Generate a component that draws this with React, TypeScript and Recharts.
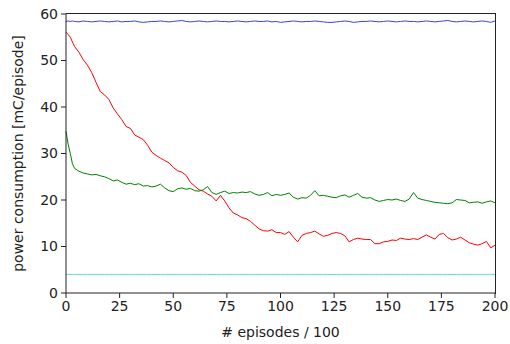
import React from 'react';
import { LineChart, Line, XAxis, YAxis } from 'recharts';

const episodes: number[] = [0, 1, 2, 3, 4, 6, 8, 10, 12, 14, 16, 18, 20, 22, 24, 26, 28, 30, 32, 34, 36, 38, 40, 42, 44, 46, 48, 50, 52, 54, 56, 58, 60, 62, 64, 66, 68, 70, 72, 74, 76, 78, 80, 82, 84, 86, 88, 90, 92, 94, 96, 98, 100, 102, 104, 106, 108, 110, 112, 114, 116, 118, 120, 122, 124, 126, 128, 130, 132, 134, 136, 138, 140, 142, 144, 146, 148, 150, 152, 154, 156, 158, 160, 162, 164, 166, 168, 170, 172, 174, 176, 178, 180, 182, 184, 186, 188, 190, 192, 194, 196, 198, 200];

const blueSeries: number[] = [58.4, 58.5, 58.4, 58.5, 58.4, 58.3, 58.5, 58.4, 58.3, 58.4, 58.5, 58.4, 58.3, 58.4, 58.5, 58.3, 58.4, 58.4, 58.5, 58.3, 58.2, 58.3, 58.4, 58.4, 58.5, 58.4, 58.3, 58.4, 58.5, 58.6, 58.4, 58.3, 58.4, 58.5, 58.4, 58.3, 58.4, 58.5, 58.4, 58.4, 58.3, 58.4, 58.5, 58.4, 58.3, 58.4, 58.5, 58.4, 58.4, 58.5, 58.3, 58.4, 58.2, 58.3, 58.4, 58.5, 58.4, 58.3, 58.4, 58.4, 58.5, 58.4, 58.3, 58.2, 58.2, 58.3, 58.4, 58.5, 58.4, 58.2, 58.3, 58.4, 58.4, 58.5, 58.4, 58.3, 58.4, 58.5, 58.4, 58.3, 58.4, 58.5, 58.4, 58.4, 58.3, 58.4, 58.5, 58.4, 58.3, 58.4, 58.5, 58.6, 58.4, 58.3, 58.4, 58.5, 58.4, 58.3, 58.4, 58.5, 58.4, 58.2, 58.5];

const redSeries: number[] = [56.1, 55.6, 55.0, 54.0, 53.0, 51.8, 50.2, 49.0, 47.4, 45.3, 43.3, 42.6, 41.6, 39.8, 38.5, 37.3, 35.8, 35.4, 34.0, 33.5, 33.0, 31.8, 30.3, 29.6, 29.0, 28.5, 28.0, 27.0, 26.3, 26.0, 25.3, 23.8, 23.0, 22.2, 21.9, 21.3, 20.8, 19.8, 21.0, 19.8, 18.3, 17.2, 16.8, 16.2, 16.0, 15.4, 14.6, 13.8, 13.4, 13.3, 13.6, 13.0, 13.0, 12.6, 13.2, 12.0, 11.0, 12.4, 12.8, 13.0, 13.3, 12.7, 12.2, 12.4, 12.8, 13.0, 12.8, 12.3, 11.0, 11.5, 11.8, 11.6, 11.5, 11.5, 10.6, 10.6, 11.0, 11.1, 11.4, 11.3, 11.8, 11.6, 11.5, 11.7, 11.5, 12.0, 12.5, 12.0, 11.6, 12.6, 12.8, 11.9, 11.4, 11.6, 12.0, 11.4, 10.8, 10.5, 10.3, 10.6, 11.1, 9.7, 10.3];

const greenSeries: number[] = [34.8, 32.0, 30.0, 27.8, 26.8, 26.2, 25.8, 25.6, 25.4, 25.5, 25.2, 25.0, 24.6, 24.1, 24.3, 23.8, 23.4, 23.6, 23.3, 23.5, 23.0, 23.1, 22.8, 23.0, 23.4, 22.6, 22.0, 21.8, 22.4, 22.6, 22.3, 22.5, 22.0, 21.9, 22.2, 22.9, 21.6, 21.2, 21.6, 21.9, 21.4, 21.6, 21.5, 21.7, 21.6, 21.8, 21.3, 21.0, 21.2, 21.6, 20.9, 21.2, 21.0, 21.2, 21.5, 20.6, 20.2, 20.5, 20.4, 21.0, 22.0, 20.9, 21.0, 20.8, 20.6, 20.5, 20.9, 21.1, 20.6, 21.0, 21.4, 20.6, 20.4, 20.5, 20.0, 19.7, 19.9, 20.1, 20.0, 20.2, 19.9, 19.7, 20.2, 21.6, 20.4, 20.1, 19.9, 19.7, 19.5, 19.4, 19.3, 19.2, 19.4, 20.1, 20.0, 19.9, 19.4, 19.5, 19.6, 19.3, 19.6, 19.8, 19.4];

const cyanSeries: number[] = episodes.map(() => 4.0);

const xTicks: number[] = [0, 25, 50, 75, 100, 125, 150, 175, 200];
const yTicks: number[] = [0, 10, 20, 30, 40, 50, 60];
const xMax = 200;
const yMax = 60;

const data = episodes.map((e, i) => ({
  episode: e,
  blue: blueSeries[i],
  red: redSeries[i],
  green: greenSeries[i],
  cyan: cyanSeries[i],
}));

const font = "'DejaVu Sans', sans-serif";
const axisColor = '#222';

export default function App() {
  return (
    <div style={{ position: 'absolute', left: 0, top: 0, width: 510, height: 344, background: '#fff' }}>
      <LineChart width={510} height={344} data={data} margin={{ top: 14, right: 15, bottom: 0, left: 0 }}>
        <XAxis
          dataKey="episode"
          type="number"
          domain={[0, xMax]}
          ticks={xTicks}
          tickSize={5}
          tickMargin={3}
          height={51}
          stroke={axisColor}
          tick={{ fill: axisColor, fontSize: 14, fontFamily: font }}
          label={{ value: '# episodes / 100', position: 'insideBottom', offset: 7, fill: axisColor, fontSize: 14, fontFamily: font }}
        />
        <YAxis
          type="number"
          domain={[0, yMax]}
          ticks={yTicks}
          tickSize={5}
          tickMargin={3}
          width={66}
          stroke={axisColor}
          tick={{ fill: axisColor, fontSize: 14, fontFamily: font }}
          label={{ value: 'power consumption [mC/episode]', angle: -90, position: 'insideLeft', offset: 18, style: { textAnchor: 'middle' }, fill: axisColor, fontSize: 14, fontFamily: font }}
        />
        <Line dataKey="blue" stroke="#3a3aff" strokeWidth={1} dot={false} isAnimationActive={false} />
        <Line dataKey="red" stroke="#ff0000" strokeWidth={1} dot={false} isAnimationActive={false} />
        <Line dataKey="green" stroke="#008000" strokeWidth={1} dot={false} isAnimationActive={false} />
        <Line dataKey="cyan" stroke="#5fd8d8" strokeWidth={1} dot={false} isAnimationActive={false} />
      </LineChart>
      <div
        style={{
          position: 'absolute',
          left: 66,
          top: 13,
          width: 430,
          height: 281,
          boxSizing: 'border-box',
          borderTop: `1px solid ${axisColor}`,
          borderRight: `1px solid ${axisColor}`,
          pointerEvents: 'none',
        }}
      />
    </div>
  );
}
